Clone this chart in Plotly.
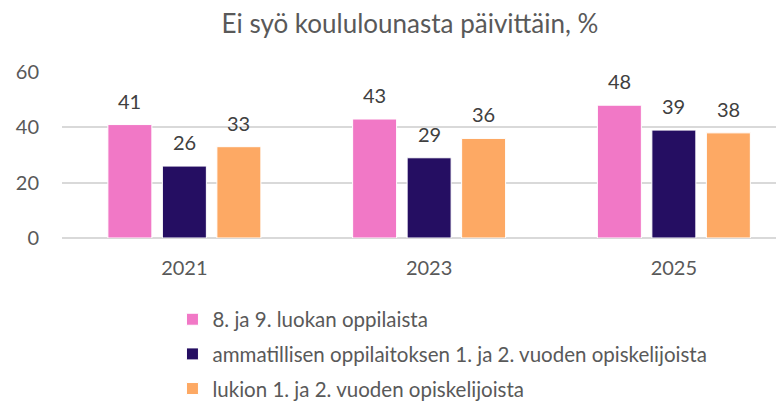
import plotly.graph_objects as go

years = ["2021", "2023", "2025"]
series_names = [
    "8. ja 9. luokan oppilaista",
    "ammatillisen oppilaitoksen 1. ja 2. vuoden opiskelijoista",
    "lukion 1. ja 2. vuoden opiskelijoista",
]
pupils_8_9 = [41, 43, 48]
vocational = [26, 29, 39]
upper_secondary = [33, 36, 38]
colors = ["#F178C6", "#250E62", "#FDA964"]
values = [pupils_8_9, vocational, upper_secondary]

FONT = "Lato"
fig = go.Figure()
slot_offsets = [-0.2227, 0.0, 0.2227]
annotations = []
for name, vals, col, off in zip(series_names, values, colors, slot_offsets):
    fig.add_trace(go.Bar(
        x=years, y=vals, name=name, legendgroup=name,
        marker=dict(color=col, line=dict(color="white", width=1)),
    ))
    for i, v in enumerate(vals):
        annotations.append(go.layout.Annotation(
            x=i + off, y=v, xref="x", yref="y", text=str(v), showarrow=False,
            yshift=24, yanchor="middle", xanchor="center",
            font=dict(size=20, color="#404040", family=FONT),
        ))

fig.update_layout(
    width=776, height=397,
    margin=dict(l=54, r=0, t=64, b=167, autoexpand=False),
    paper_bgcolor="white", plot_bgcolor="white",
    font=dict(family=FONT, color="#595959"),
    title=dict(text="Ei syö koululounasta päivittäin, %", x=0.518, xanchor="center",
               y=0.960, yanchor="middle", font=dict(size=26, color="#595959", family=FONT)),
    barmode="group", bargap=0.332, bargroupgap=0.193,
    showlegend=True,
    legend=dict(orientation="v", x=0.153, xanchor="left", y=-0.370, yanchor="top",
                font=dict(size=20.5, color="#595959", family=FONT),
                tracegroupgap=5, itemwidth=30, traceorder="grouped"),
)
for a in annotations:
    fig.add_annotation(a)
fig.update_xaxes(type="category", range=[-0.5, 2.45], showgrid=False, showline=False,
                 ticks="", tickfont=dict(size=20, color="#595959"), ticklabelstandoff=16)
fig.update_yaxes(range=[0, 60], dtick=20, showgrid=True, gridcolor="#D9D9D9", gridwidth=1.5,
                 zeroline=True, zerolinecolor="#D9D9D9", zerolinewidth=1.5, showline=False,
                 tickfont=dict(size=20, color="#595959"), ticklabelstandoff=22)

fig.write_html("out.html")
